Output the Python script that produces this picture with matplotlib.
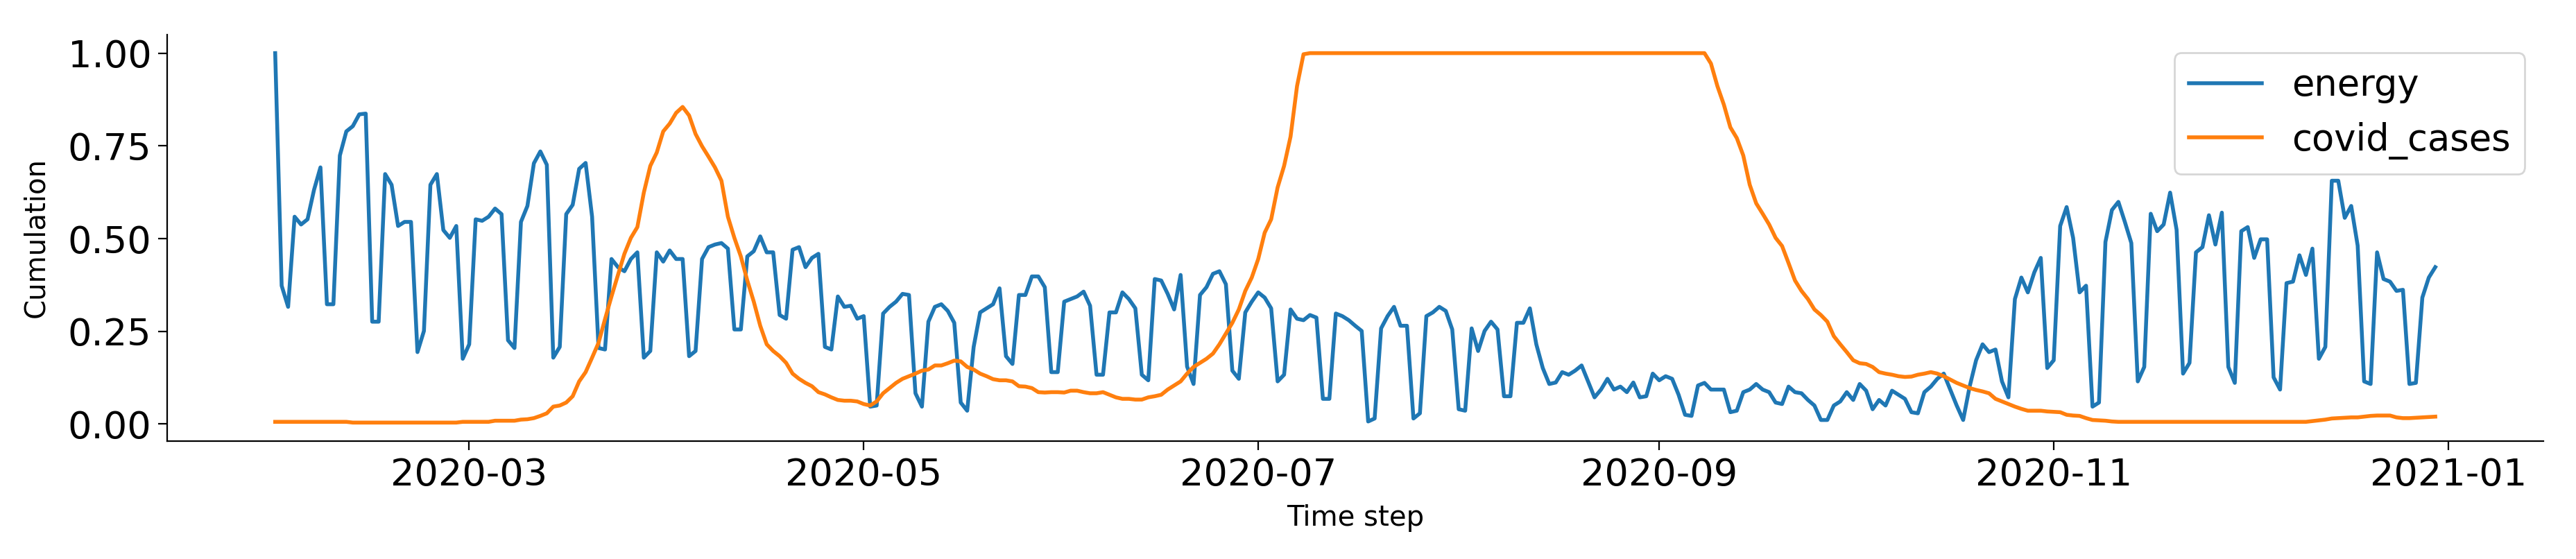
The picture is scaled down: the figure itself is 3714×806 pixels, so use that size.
import matplotlib
matplotlib.use("Agg")
import matplotlib.pyplot as plt
import matplotlib.dates as mdates
import pandas as pd

# daily values, 2020-01-31 .. 2020-12-30
energy = [
    1.000, 0.373, 0.316, 0.559, 0.538, 0.552, 0.631, 0.692, 0.323, 0.323,
    0.724, 0.789, 0.803, 0.835, 0.837, 0.276, 0.276, 0.674, 0.645, 0.534,
    0.545, 0.545, 0.194, 0.251, 0.645, 0.674, 0.523, 0.502, 0.534, 0.176,
    0.215, 0.552, 0.548, 0.559, 0.581, 0.566, 0.226, 0.205, 0.545, 0.588,
    0.703, 0.735, 0.699, 0.179, 0.208, 0.566, 0.591, 0.688, 0.704, 0.559,
    0.205, 0.201, 0.445, 0.423, 0.412, 0.445, 0.463, 0.179, 0.197, 0.463,
    0.438, 0.468, 0.445, 0.445, 0.183, 0.197, 0.445, 0.477, 0.484, 0.488,
    0.473, 0.255, 0.255, 0.452, 0.466, 0.506, 0.463, 0.463, 0.294, 0.284,
    0.470, 0.477, 0.423, 0.448, 0.459, 0.208, 0.201, 0.344, 0.316, 0.319,
    0.284, 0.291, 0.047, 0.050, 0.298, 0.316, 0.330, 0.351, 0.348, 0.083,
    0.047, 0.276, 0.316, 0.323, 0.305, 0.273, 0.058, 0.036, 0.208, 0.301,
    0.312, 0.323, 0.366, 0.183, 0.162, 0.348, 0.348, 0.398, 0.398, 0.369,
    0.140, 0.140, 0.330, 0.337, 0.344, 0.357, 0.319, 0.133, 0.133, 0.301,
    0.301, 0.355, 0.337, 0.312, 0.133, 0.118, 0.391, 0.387, 0.351, 0.309,
    0.402, 0.155, 0.108, 0.348, 0.369, 0.405, 0.412, 0.377, 0.144, 0.122,
    0.301, 0.330, 0.355, 0.341, 0.312, 0.115, 0.133, 0.309, 0.284, 0.280,
    0.294, 0.287, 0.068, 0.068, 0.298, 0.291, 0.280, 0.265, 0.251, 0.007,
    0.015, 0.258, 0.291, 0.316, 0.265, 0.265, 0.015, 0.029, 0.291, 0.301,
    0.316, 0.305, 0.255, 0.040, 0.036, 0.258, 0.197, 0.251, 0.276, 0.255,
    0.075, 0.075, 0.273, 0.273, 0.312, 0.215, 0.151, 0.108, 0.112, 0.140,
    0.133, 0.144, 0.158, 0.115, 0.072, 0.093, 0.122, 0.093, 0.101, 0.086,
    0.112, 0.072, 0.075, 0.136, 0.118, 0.129, 0.122, 0.079, 0.025, 0.022,
    0.104, 0.111, 0.093, 0.093, 0.093, 0.032, 0.036, 0.086, 0.093, 0.108,
    0.093, 0.086, 0.058, 0.054, 0.101, 0.086, 0.083, 0.065, 0.050, 0.011,
    0.011, 0.050, 0.061, 0.086, 0.065, 0.108, 0.090, 0.040, 0.065, 0.050,
    0.090, 0.079, 0.068, 0.032, 0.029, 0.086, 0.101, 0.122, 0.136, 0.093,
    0.050, 0.011, 0.101, 0.172, 0.215, 0.194, 0.201, 0.115, 0.072, 0.337,
    0.395, 0.355, 0.409, 0.448, 0.151, 0.172, 0.534, 0.585, 0.502, 0.355,
    0.373, 0.047, 0.058, 0.491, 0.577, 0.599, 0.545, 0.488, 0.115, 0.154,
    0.567, 0.520, 0.538, 0.624, 0.524, 0.136, 0.165, 0.463, 0.477, 0.563,
    0.484, 0.570, 0.154, 0.111, 0.520, 0.531, 0.448, 0.498, 0.498, 0.126,
    0.093, 0.380, 0.384, 0.455, 0.402, 0.473, 0.176, 0.208, 0.656, 0.656,
    0.556, 0.588, 0.481, 0.115, 0.108, 0.463, 0.391, 0.384, 0.359, 0.362,
    0.108, 0.111, 0.341, 0.395, 0.423,
]

covid_cases = [
    0.006, 0.006, 0.006, 0.006, 0.006, 0.006, 0.006, 0.006, 0.006, 0.006,
    0.006, 0.006, 0.004, 0.004, 0.004, 0.004, 0.004, 0.004, 0.004, 0.004,
    0.004, 0.004, 0.004, 0.004, 0.004, 0.004, 0.004, 0.004, 0.004, 0.006,
    0.006, 0.006, 0.006, 0.006, 0.009, 0.009, 0.009, 0.009, 0.012, 0.013,
    0.016, 0.022, 0.029, 0.047, 0.050, 0.058, 0.075, 0.115, 0.140, 0.179,
    0.219, 0.283, 0.344, 0.402, 0.459, 0.502, 0.531, 0.624, 0.696, 0.732,
    0.789, 0.810, 0.839, 0.855, 0.832, 0.782, 0.749, 0.721, 0.692, 0.656,
    0.559, 0.502, 0.452, 0.387, 0.330, 0.265, 0.215, 0.197, 0.183, 0.165,
    0.136, 0.122, 0.111, 0.102, 0.086, 0.080, 0.072, 0.065, 0.063, 0.063,
    0.061, 0.054, 0.050, 0.061, 0.083, 0.097, 0.111, 0.122, 0.129, 0.136,
    0.144, 0.147, 0.158, 0.158, 0.164, 0.171, 0.169, 0.154, 0.147, 0.136,
    0.129, 0.121, 0.118, 0.118, 0.115, 0.102, 0.101, 0.097, 0.086, 0.085,
    0.086, 0.086, 0.085, 0.090, 0.090, 0.086, 0.083, 0.083, 0.086, 0.079,
    0.072, 0.068, 0.068, 0.066, 0.066, 0.072, 0.075, 0.079, 0.093, 0.104,
    0.115, 0.136, 0.154, 0.165, 0.176, 0.190, 0.215, 0.244, 0.273, 0.309,
    0.359, 0.395, 0.445, 0.516, 0.552, 0.638, 0.696, 0.775, 0.911, 0.997,
    1.000, 1.000, 1.000, 1.000, 1.000, 1.000, 1.000, 1.000, 1.000, 1.000,
    1.000, 1.000, 1.000, 1.000, 1.000, 1.000, 1.000, 1.000, 1.000, 1.000,
    1.000, 1.000, 1.000, 1.000, 1.000, 1.000, 1.000, 1.000, 1.000, 1.000,
    1.000, 1.000, 1.000, 1.000, 1.000, 1.000, 1.000, 1.000, 1.000, 1.000,
    1.000, 1.000, 1.000, 1.000, 1.000, 1.000, 1.000, 1.000, 1.000, 1.000,
    1.000, 1.000, 1.000, 1.000, 1.000, 1.000, 1.000, 1.000, 1.000, 1.000,
    1.000, 1.000, 0.972, 0.911, 0.861, 0.800, 0.771, 0.724, 0.645, 0.595,
    0.567, 0.538, 0.502, 0.480, 0.434, 0.387, 0.359, 0.337, 0.309, 0.294,
    0.276, 0.237, 0.215, 0.194, 0.172, 0.164, 0.162, 0.154, 0.140, 0.136,
    0.133, 0.129, 0.127, 0.128, 0.133, 0.136, 0.140, 0.136, 0.129, 0.120,
    0.111, 0.104, 0.097, 0.092, 0.088, 0.083, 0.068, 0.061, 0.054, 0.047,
    0.041, 0.036, 0.036, 0.036, 0.034, 0.033, 0.032, 0.025, 0.023, 0.022,
    0.016, 0.011, 0.010, 0.009, 0.007, 0.006, 0.006, 0.006, 0.006, 0.006,
    0.006, 0.006, 0.006, 0.006, 0.006, 0.006, 0.006, 0.006, 0.006, 0.006,
    0.006, 0.006, 0.006, 0.006, 0.006, 0.006, 0.006, 0.006, 0.006, 0.006,
    0.006, 0.006, 0.006, 0.006, 0.006, 0.008, 0.010, 0.012, 0.015, 0.016,
    0.017, 0.018, 0.018, 0.020, 0.022, 0.023, 0.023, 0.023, 0.018, 0.016,
    0.016, 0.017, 0.018, 0.019, 0.020,
]

days = pd.date_range("2020-01-31", periods=len(energy), freq="D")

fig, ax = plt.subplots(figsize=(18.57, 4.03), dpi=200)
fig.subplots_adjust(left=0.0649, right=0.9873, bottom=0.211, top=0.938)

ax.plot(days, energy, label="energy", color="#1f77b4", lw=2.0)
ax.plot(days, covid_cases, label="covid_cases", color="#ff7f0e", lw=2.0)

ax.spines[["top", "right"]].set_visible(False)
ax.xaxis.set_major_locator(mdates.MonthLocator(bymonth=[1, 3, 5, 7, 9, 11]))
ax.xaxis.set_major_formatter(mdates.DateFormatter("%Y-%m"))
ax.tick_params(labelsize=19.5, length=4.7)
ax.set_xlabel("Time step", fontsize=14.5, labelpad=6)
ax.set_ylabel("Cumulation", fontsize=14.5, labelpad=9)
ax.legend(loc="upper right", fontsize=19)

fig.savefig("out.png", dpi=200)
